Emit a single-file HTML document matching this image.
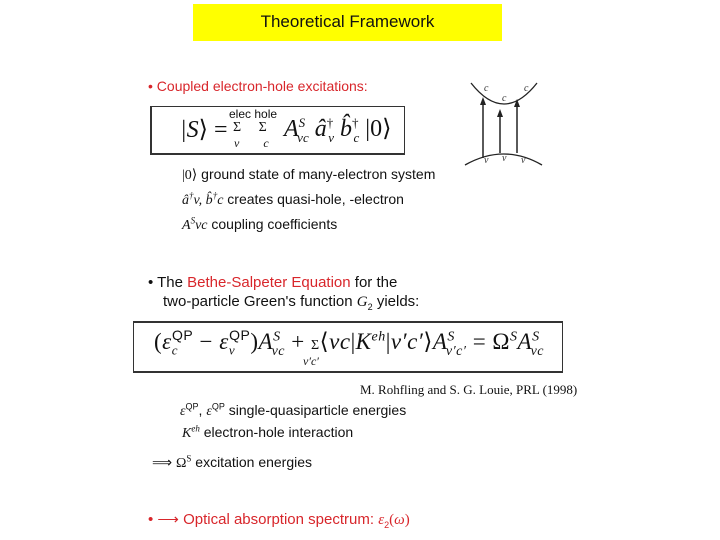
<!DOCTYPE html>
<html><head><meta charset="utf-8"><style>
body{margin:0;width:720px;height:540px;background:#fff;position:relative;overflow:hidden;font-family:"Liberation Sans",sans-serif;color:#111}
.a{position:absolute;white-space:nowrap}
.r{color:#d8262b}
.m{font-family:"Liberation Serif",serif;font-style:italic}
.s{font-family:"Liberation Serif",serif}
sup,sub{line-height:0}
</style></head><body>
<div class="a" style="left:193px;top:4px;width:309px;height:37px;background:#ffff00"></div>
<div class="a" style="left:193px;top:12px;width:309px;text-align:center;font-size:17px">Theoretical Framework</div>

<div class="a r" style="left:148px;top:78px;font-size:14px">• Coupled electron-hole excitations:</div>
<div class="a" style="left:150px;top:106px;width:252px;height:46px;border:1px solid #333;border-left:2px solid #333;border-bottom:2px solid #333"></div>
<div class="a s" style="left:180px;top:115px;font-size:24px"><i>|S</i>⟩ = </div>
<div class="a" style="left:229px;top:107px;font-size:12px">elec hole</div>
<div class="a s" style="left:233px;top:120px;font-size:14px">Σ&nbsp;&nbsp;&nbsp;&nbsp;&nbsp;Σ</div>
<div class="a m" style="left:234px;top:136px;font-size:12px">v&nbsp;&nbsp;&nbsp;&nbsp;&nbsp;&nbsp;&nbsp;&nbsp;c</div>
<div class="a s" style="left:284px;top:114px;font-size:24px"><i>A</i><sup style="font-size:13px"><i>S</i></sup><sub style="font-size:13px;margin-left:-8px"><i>vc</i></sub> <i>â</i><sup style="font-size:13px">†</sup><sub style="font-size:13px;margin-left:-5px"><i>v</i></sub> <i>b̂</i><sup style="font-size:13px">†</sup><sub style="font-size:13px;margin-left:-5px"><i>c</i></sub> |0⟩</div>

<div class="a" style="left:182px;top:166px;font-size:14px"><span class="s">|0⟩</span> ground state of many-electron system</div>
<div class="a" style="left:182px;top:191px;font-size:14px"><span class="m">â<sup style="font-size:9px">†</sup>v, b̂<sup style="font-size:9px">†</sup>c</span> creates quasi-hole, -electron</div>
<div class="a" style="left:182px;top:216px;font-size:14px"><span class="m">A<sup style="font-size:9px">S</sup>vc</span> coupling coefficients</div>

<svg class="a" style="left:460px;top:75px" width="90" height="100">
<path d="M11 8 Q44 50 77 8" fill="none" stroke="#222" stroke-width="1.3"/>
<path d="M5 90 Q44 68 82 90" fill="none" stroke="#222" stroke-width="1.3"/>
<g stroke="#222" stroke-width="1.5"><line x1="23" y1="83" x2="23" y2="26"/><line x1="40" y1="78" x2="40" y2="38"/><line x1="57" y1="78" x2="57" y2="28"/></g>
<g fill="#222"><path d="M23 22 l-3 8 h6z"/><path d="M40 34 l-3 8 h6z"/><path d="M57 24 l-3 8 h6z"/></g>
<g font-family="Liberation Serif" font-style="italic" font-size="10" fill="#333"><text x="24" y="16">c</text><text x="42" y="26">c</text><text x="64" y="16">c</text><text x="24" y="88">v</text><text x="42" y="86">v</text><text x="61" y="88">v</text></g>
</svg>

<div class="a" style="left:148px;top:274px;font-size:15px">• The <span class="r">Bethe-Salpeter Equation</span> for the</div>
<div class="a" style="left:163px;top:293px;font-size:15px">two-particle Green's function <span class="m">G</span><sub style="font-size:9px">2</sub> yields:</div>
<div class="a" style="left:133px;top:321px;width:428px;height:48px;border:1px solid #333;border-top:2px solid #333;border-bottom:2px solid #333"></div>
<div class="a s" style="left:154px;top:329px;font-size:23px;letter-spacing:0.5px">(<i>ε</i><sub style="font-size:13px"><i>c</i></sub><sup style="font-size:14px;margin-left:-6px;font-family:'Liberation Sans'">QP</sup> − <i>ε</i><sub style="font-size:13px"><i>v</i></sub><sup style="font-size:14px;margin-left:-6px;font-family:'Liberation Sans'">QP</sup>)<i>A</i><sup style="font-size:14px"><i>S</i></sup><sub style="font-size:14px;margin-left:-9px"><i>vc</i></sub> + <span style="font-size:14px">Σ</span>⟨<i>vc</i>|<i>K</i><sup style="font-size:14px"><i>eh</i></sup>|<i>v′c′</i>⟩<i>A</i><sup style="font-size:14px"><i>S</i></sup><sub style="font-size:14px;margin-left:-9px"><i>v′c′</i></sub> = Ω<sup style="font-size:14px"><i>S</i></sup><i>A</i><sup style="font-size:14px"><i>S</i></sup><sub style="font-size:14px;margin-left:-9px"><i>vc</i></sub></div>
<div class="a m" style="left:303px;top:354px;font-size:12px">v′c′</div>
<div class="a s" style="left:360px;top:382px;font-size:13px">M. Rohfling and S. G. Louie, PRL (1998)</div>

<div class="a" style="left:180px;top:402px;font-size:14px"><span class="m">ε</span><sup style="font-size:9px">QP</sup>, <span class="m">ε</span><sup style="font-size:9px">QP</sup> single-quasiparticle energies</div>
<div class="a" style="left:182px;top:424px;font-size:14px"><span class="m">K<sup style="font-size:9px">eh</sup></span> electron-hole interaction</div>
<div class="a" style="left:152px;top:454px;font-size:14px">⟹ <span class="s">Ω<sup style="font-size:9px">S</sup></span> excitation energies</div>
<div class="a r" style="left:148px;top:510px;font-size:15px">• ⟶ Optical absorption spectrum: <span class="m">ε</span><sub style="font-size:9px">2</sub><span class="s">(<i>ω</i>)</span></div>
</body></html>
